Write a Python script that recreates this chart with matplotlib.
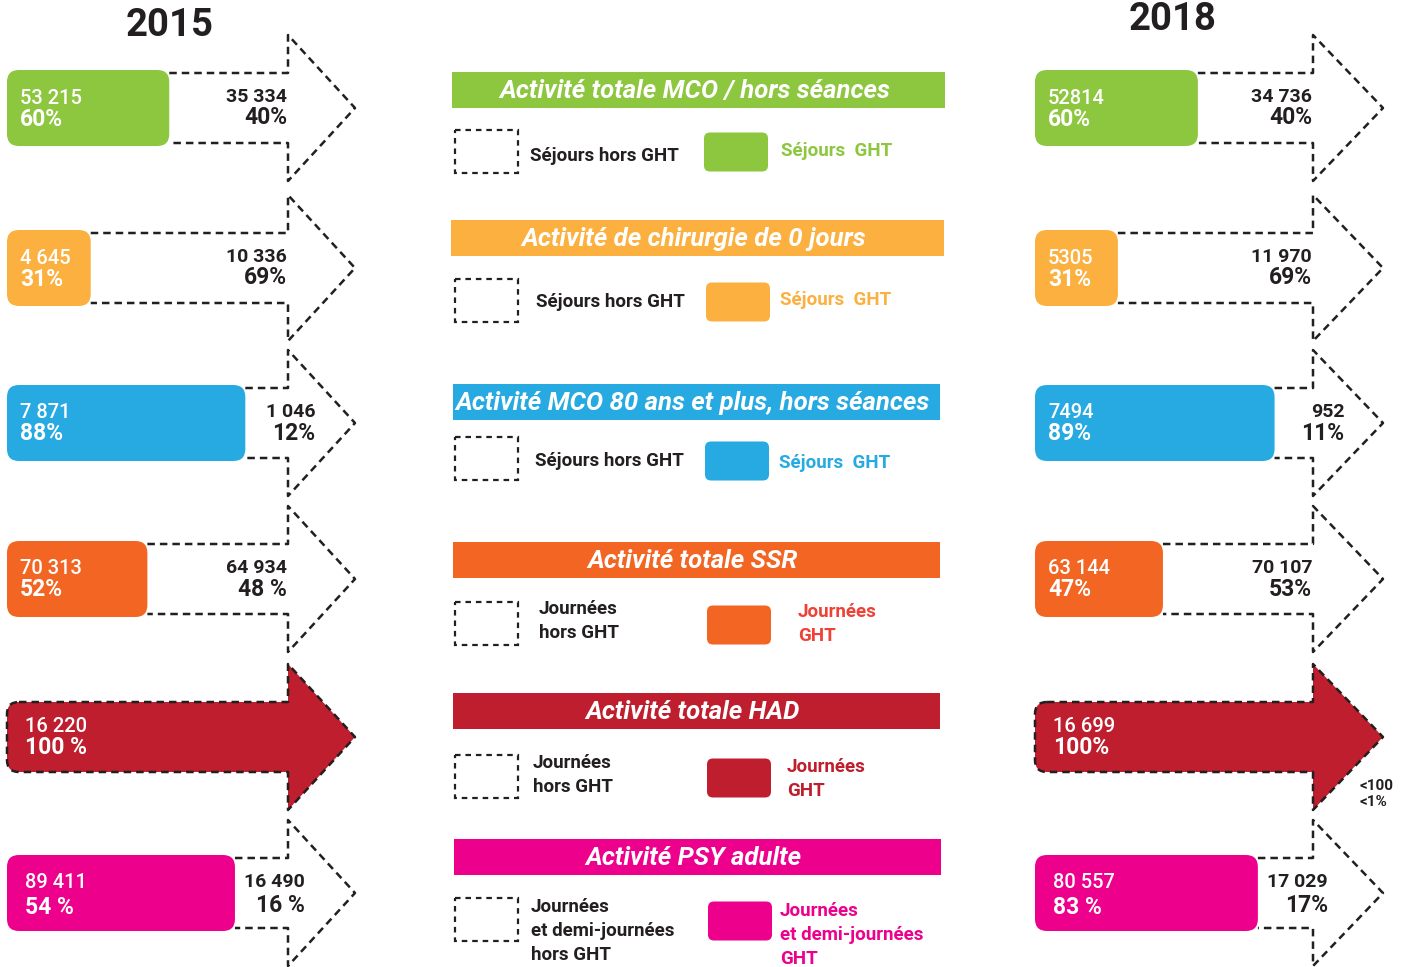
import matplotlib
matplotlib.use("Agg")
import matplotlib.pyplot as plt
from matplotlib.patches import FancyBboxPatch, Rectangle, PathPatch
from matplotlib.path import Path

plt.rcParams['font.family'] = ['Roboto', 'DejaVu Sans']

# ---------------- data ----------------
categories = ["Activité totale MCO / hors séances",
              "Activité de chirurgie de 0 jours",
              "Activité MCO 80 ans et plus, hors séances",
              "Activité totale SSR",
              "Activité totale HAD",
              "Activité PSY adulte"]
years = ["2015", "2018"]

ght_2015 = [53215, 4645, 7871, 70313, 16220, 89411]
hors_2015 = [35334, 10336, 1046, 64934, 0, 16490]
ght_2018 = [52814, 5305, 7494, 63144, 16699, 80557]
hors_2018 = [34736, 11970, 952, 70107, 0, 17029]

ght_labels_2015 = ["53 215", "4 645", "7 871", "70 313", "16 220", "89 411"]
ght_pct_2015 = ["60%", "31%", "88%", "52%", "100 %", "54 %"]
hors_labels_2015 = ["35 334", "10 336", "1 046", "64 934", "", "16 490"]
hors_pct_2015 = ["40%", "69%", "12%", "48 %", "", "16 %"]

ght_labels_2018 = ["52814", "5305", "7494", "63 144", "16 699", "80 557"]
ght_pct_2018 = ["60%", "31%", "89%", "47%", "100%", "83 %"]
hors_labels_2018 = ["34 736", "11 970", "952", "70 107", "<100", "17 029"]
hors_pct_2018 = ["40%", "69%", "11%", "53%", "<1%", "17%"]

legend_hors = ["Séjours hors GHT", "Séjours hors GHT", "Séjours hors GHT",
               "Journées\nhors GHT", "Journées\nhors GHT",
               "Journées\net demi-journées\nhors GHT"]
legend_ght = ["Séjours  GHT", "Séjours  GHT", "Séjours  GHT",
              "Journées\nGHT", "Journées\nGHT",
              "Journées\net demi-journées\nGHT"]

colors = ["#8dc63f", "#fbb040", "#27aae1", "#f26522", "#be1e2d", "#ec008c"]
legend_text_colors = ["#8dc63f", "#fbb040", "#27aae1", "#ef4136", "#be1e2d", "#ec008c"]
DARK = "#231f20"

# ---------------- layout ----------------
W, H = 1408, 967
fig = plt.figure(figsize=(W / 100, H / 100), dpi=100)
ax = fig.add_axes([0, 0, 1, 1])
ax.set_xlim(0, W)
ax.set_ylim(H, 0)
ax.axis("off")

row_y = [108, 268, 423, 579, 737, 893]
BODY, HEAD, BOXH = 35, 73, 38
DASH = (0, (3, 2))
columns = [
    dict(x0=7, head=288, tip=355, ght=ght_2015, hors=hors_2015,
         gl=ght_labels_2015, gp=ght_pct_2015, hl=hors_labels_2015, hp=hors_pct_2015,
         year=years[0], yx=170, yy=25),
    dict(x0=1035, head=1313, tip=1383, ght=ght_2018, hors=hors_2018,
         gl=ght_labels_2018, gp=ght_pct_2018, hl=hors_labels_2018, hp=hors_pct_2018,
         year=years[1], yx=1173, yy=20),
]
EFF_LEN = 270

for col in columns:
    ax.text(col["yx"], col["yy"], col["year"], ha="center", va="center",
            fontsize=27.5, fontweight="bold", color=DARK)
    x0, hx, tx = col["x0"], col["head"], col["tip"]
    for i, yc in enumerate(row_y):
        g, h = col["ght"][i], col["hors"][i]
        frac = g / (g + h)
        top, bot = yc - BODY, yc + BODY
        if frac >= 0.99:
            r = 12
            verts = [(x0 + r, top), (hx, top), (hx, yc - HEAD), (tx, yc),
                     (hx, yc + HEAD), (hx, bot), (x0 + r, bot),
                     (x0, bot), (x0, bot - r), (x0, top + r),
                     (x0, top), (x0 + r, top), (x0 + r, top)]
            codes = [Path.MOVETO] + [Path.LINETO] * 6 + [Path.CURVE3, Path.CURVE3,
                     Path.LINETO, Path.CURVE3, Path.CURVE3, Path.CLOSEPOLY]
            ax.add_patch(PathPatch(Path(verts, codes), facecolor=colors[i],
                                   edgecolor=DARK, lw=1.8, ls=DASH, zorder=2,
                                   joinstyle="round"))
            box_right = hx
        else:
            w = frac * EFF_LEN
            box_right = x0 + w
            xs = [box_right, hx, hx, tx, hx, hx, box_right]
            ys = [top, top, yc - HEAD, yc, yc + HEAD, bot, bot]
            ax.plot(xs, ys, ls=DASH, lw=1.8, color=DARK, zorder=1)
            ax.add_patch(FancyBboxPatch((x0, yc - BOXH), w, 2 * BOXH,
                                        boxstyle="round,pad=0,rounding_size=12",
                                        facecolor=colors[i], edgecolor="none",
                                        zorder=3))
        # GHT labels (white)
        lx = x0 + 13 + (5 if i >= 4 else 0)
        ax.text(lx, yc - 10, col["gl"][i], ha="left", va="center", fontsize=14.5,
                fontweight="medium", color="white", zorder=4)
        ax.text(lx, yc + 11 + (4 if i == 5 else 0), col["gp"][i], ha="left",
                va="center", fontsize=16.5, fontweight="bold", color="white", zorder=4)
        # hors GHT labels
        if col["hl"][i]:
            if frac >= 0.99:
                ax.text(tx - 23, yc + 57, col["hl"][i] + "\n" + col["hp"][i],
                        ha="left", va="center", fontsize=11, fontweight="bold",
                        color=DARK, linespacing=1.15)
            else:
                rx = hx - 1 if frac < 0.8 else box_right + 70
                ax.text(rx, yc - 11, col["hl"][i], ha="right", va="center",
                        fontsize=14, fontweight="bold", color=DARK, zorder=4)
                ax.text(rx, yc + 10 + (3 if i == 5 else 0), col["hp"][i], ha="right",
                        va="center", fontsize=16.5, fontweight="bold", color=DARK,
                        zorder=4)

# ---------------- middle legend ----------------
bar_tops = [72, 220, 384, 542, 693, 839]
bar_x = [452, 451, 453, 453, 453, 454]
bar_w = [493, 493, 487, 487, 487, 487]
sq_y = [151, 300, 458, 623, 776, 919]
fill_y = [152, 302, 461, 625, 778, 921]
fill_x = [704, 706, 705, 707, 707, 708]
hors_tx = [530, 536, 535, 539, 533, 531]
hors_ty = [156, 302, 461, 621, 775, 931]
ght_tx = [781, 780, 779, 798, 787, 780]
ght_ty = [151, 300, 463, 624, 779, 935]

for i, cat in enumerate(categories):
    ax.add_patch(Rectangle((bar_x[i], bar_tops[i]), bar_w[i], 36,
                           facecolor=colors[i], edgecolor="none"))
    ax.text(bar_x[i] + bar_w[i] / 2 - 4, bar_tops[i] + 19, cat, ha="center",
            va="center", fontsize=18.5, fontweight="bold", fontstyle="italic",
            color="white")
    ax.add_patch(Rectangle((455, sq_y[i] - 21.5), 63, 43, facecolor="none",
                           edgecolor=DARK, lw=1.6, ls=(0, (2.5, 2.2))))
    ax.add_patch(FancyBboxPatch((fill_x[i], fill_y[i] - 19.5), 64, 39,
                                boxstyle="round,pad=0,rounding_size=6",
                                facecolor=colors[i], edgecolor="none"))
    ax.text(hors_tx[i], hors_ty[i], legend_hors[i], ha="left", va="center",
            fontsize=13.5, fontweight="bold", color=DARK, linespacing=1.4)
    ax.text(ght_tx[i], ght_ty[i], legend_ght[i], ha="left", va="center",
            fontsize=13.5, fontweight="bold", color=legend_text_colors[i],
            linespacing=1.4)

fig.savefig("out.png", dpi=100, facecolor="white")
